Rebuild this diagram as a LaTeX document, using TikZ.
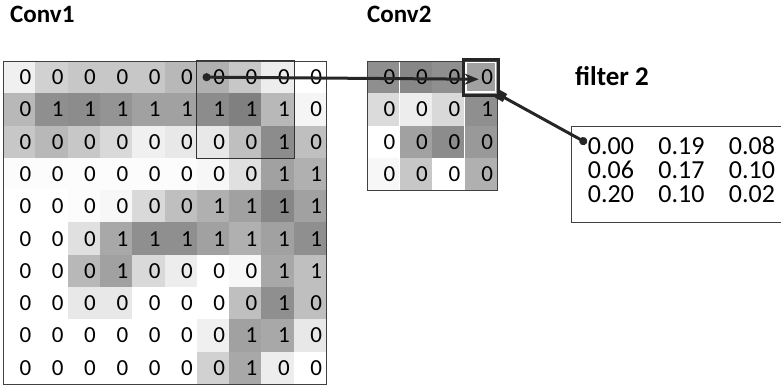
\documentclass[tikz,border=0pt]{standalone}
\usepackage{fontspec}
\setmainfont{Carlito}
\usepackage{tikz}
\usetikzlibrary{arrows.meta}
\usetikzlibrary{calc}
\usepackage{xcolor}

\tikzset{
  cell/.style={inner xsep=4pt, inner ysep=0pt, text width=24.3pt, align=right,
    minimum height=32.3pt, font=\fontsize{23}{25}\selectfont},
  title/.style={anchor=base west, inner sep=0pt, font=\fontsize{25}{27}\selectfont\bfseries},
  fval/.style={inner sep=0pt, font=\fontsize{26}{27}\selectfont},
  link/.style={line width=3pt, black!85}
}

\begin{document}
\begin{tikzpicture}[x=1pt,y=-1pt]

			\useasboundingbox (0,0) rectangle (781,387);

			% Titles
			\node[title] (t1) at (10,23) {Conv1};
			\node[title] (t2) at (367,23) {Conv2};
			\node[title, font=\fontsize{27}{29}\selectfont\bfseries] (t3) at (575,86) {filter 2};

			% Conv1 grid (value/shade)
			\foreach \row [count=\r from 0] in {
				{0/6,0/18,0/22,0/22,0/22,0/28,0/31,0/22,0/7,0/0},
				{0/28,1/44,1/45,1/42,1/37,1/37,1/45,1/50,1/28,0/4},
				{0/22,0/28,0/22,0/15,0/6,0/9,0/9,0/25,1/45,0/25},
				{0/1,0/1,0/1,0/1,0/1,0/1,0/3,0/12,1/37,1/31},
				{0/0,0/0,0/1,0/3,0/15,0/25,1/31,1/37,1/47,1/37},
				{0/0,0/0,0/12,1/34,1/44,1/44,1/37,1/31,1/37,1/44},
				{0/0,0/0,0/28,1/37,0/15,0/7,0/0,0/3,1/34,1/25},
				{0/0,0/0,0/9,0/9,0/0,0/0,0/0,0/25,1/44,0/25},
				{0/0,0/0,0/0,0/0,0/0,0/0,0/6,1/37,1/34,0/9},
				{0/0,0/0,0/0,0/0,0/0,0/0,0/18,1/34,0/7,0/0}}
			  \foreach \v/\g [count=\c from 0] in \row
			    \node[cell, fill=black!\g] (a-\r-\c) at (19.15+32.3*\c, 77.15+32.3*\r) {\v};
			\draw[black!75, line width=0.8pt] (3,61) rectangle (326,384);

			% sliding window
			\draw[black!80, line width=0.8pt] (a-0-6.north west) rectangle (a-2-8.south east);

			% Conv2 grid
			\foreach \row [count=\r from 0] in {
				{0/44,0/47,0/44,0/37},
				{0/14,0/7,0/15,1/44},
				{0/0,0/37,0/45,0/40},
				{0/3,0/22,0/0,0/31}}
			  \foreach \v/\g [count=\c from 0] in \row
			    \node[cell, fill=black!\g] (b-\r-\c) at (383.25+32.5*\c, 77.25+32.3*\r) {\v};
			\draw[black!75, line width=0.8pt] (367,61) rectangle (497,190);

			% highlighted output cell
			\draw[black!85, line width=3pt] ($(b-0-3.north west)+(-1,-1.5)$) rectangle ($(b-0-3.south east)+(1.5,1.5)$);
			\draw[white, line width=1.2pt] ($(b-0-3.north west)+(1.5,1.5)$) rectangle ($(b-0-3.south east)+(-1.5,-1.5)$);

			% filter box
			\draw[black!75, line width=0.8pt] (800,126) -- (571,126) -- (571,222) -- (800,222);
			\foreach \row [count=\r from 0] in {{0.00,0.19,0.08},{0.06,0.17,0.10},{0.20,0.10,0.02}}
			  \foreach \w [count=\c from 0] in \row
			    \node[fval] (f-\r-\c) at (611+70.5*\c, 146+24*\r) {\w};

			% connectors
			\coordinate (p1) at ($(a-0-6.west)+(6,0)$);
			\coordinate (p2) at ($(b-0-3.center)+(-2,2)$);
			\coordinate (p3) at ($(b-0-3.south east)+(0,0)$);
			\coordinate (p4) at ($(f-0-0.west)+(-1,-3)$);
			\draw[link, {Circle[length=8pt]}-{Stealth[length=14pt,width=11pt]}] (p1) -- (p2);
			\draw[link, {Circle[length=8pt]}-{Square[length=9pt,width=9pt]}] (p4) -- (p3);

		\end{tikzpicture}
\end{document}
